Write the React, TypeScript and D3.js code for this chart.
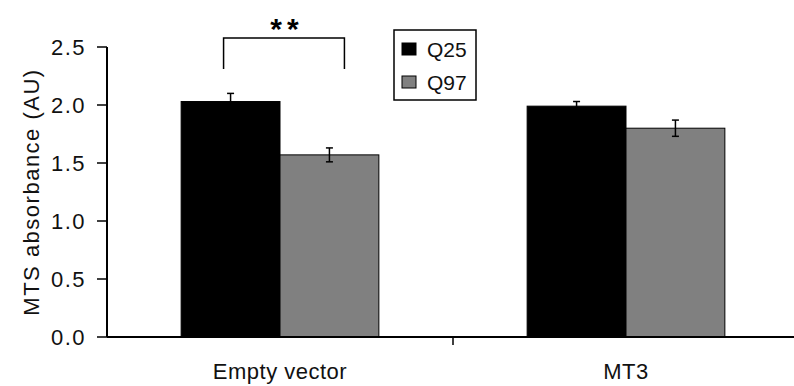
import React from "react";
import { scaleBand, scaleLinear } from "d3";

const categories = ["Empty vector", "MT3"];
const series = ["Q25", "Q97"];
const q25Values = [2.03, 1.99];
const q25Errors = [0.07, 0.04];
const q97Values = [1.57, 1.8];
const q97Errors = [0.06, 0.07];
const yTicks = [0, 0.5, 1.0, 1.5, 2.0, 2.5];
const colors = ["#000000", "#808080"];

const W = 794;
const H = 386;
const left = 107;
const right = 799;
const top = 47;
const bottom = 337;
const font = "'Liberation Sans', Arial, sans-serif";

const App = () => {
  const x0 = scaleBand().domain(categories).range([left, right]);
  const x1 = scaleBand()
    .domain(series)
    .range([0, x0.bandwidth()])
    .paddingOuter(0.75);
  const y = scaleLinear().domain([0, 2.5]).range([bottom, top]);

  const values = [q25Values, q97Values];
  const errors = [q25Errors, q97Errors];

  // significance bracket over the first group
  const g0 = x0(categories[0]);
  const bx1 = g0 + x1("Q25") + x1.bandwidth() / 2 - 7;
  const bx2 = g0 + x1("Q97") + x1.bandwidth() / 2 + 15;

  return (
    <svg
      width={W}
      height={H}
      style={{ position: "absolute", left: 0, top: 0, background: "#fff" }}
      fontFamily={font}
    >
      {/* bars */}
      {categories.map((c, i) =>
        series.map((s, j) => {
          const x = x0(c) + x1(s);
          const v = values[j][i];
          return (
            <rect
              key={c + s}
              x={x}
              y={y(v)}
              width={x1.bandwidth()}
              height={y(0) - y(v)}
              fill={colors[j]}
              stroke="#000"
              strokeWidth={1}
            />
          );
        })
      )}
      {/* error bars */}
      {categories.map((c, i) =>
        series.map((s, j) => {
          const cx = x0(c) + x1(s) + x1.bandwidth() / 2;
          const v = values[j][i];
          const e = errors[j][i];
          return (
            <g key={"e" + c + s} stroke="#000" strokeWidth={1.5}>
              <line x1={cx} x2={cx} y1={y(v - e)} y2={y(v + e)} />
              <line x1={cx - 3.5} x2={cx + 3.5} y1={y(v + e)} y2={y(v + e)} />
              <line x1={cx - 3.5} x2={cx + 3.5} y1={y(v - e)} y2={y(v - e)} />
            </g>
          );
        })
      )}
      {/* y axis */}
      <line x1={left} x2={left} y1={top} y2={bottom} stroke="#000" strokeWidth={2} />
      {yTicks.map((t) => (
        <g key={t}>
          <line x1={left - 10} x2={left} y1={y(t)} y2={y(t)} stroke="#000" strokeWidth={1.5} />
          <text
            x={86}
            y={y(t)}
            dy="0.35em"
            textAnchor="end"
            fontSize={22}
            letterSpacing={1.5}
            fill="#111"
          >
            {t.toFixed(1)}
          </text>
        </g>
      ))}
      <text
        transform={`translate(39,${(top + bottom) / 2}) rotate(-90)`}
        textAnchor="middle"
        fontSize={22}
        letterSpacing={1.5}
        fill="#111"
      >
        MTS absorbance (AU)
      </text>
      {/* x axis */}
      <line x1={left} x2={W} y1={bottom} y2={bottom} stroke="#000" strokeWidth={2} />
      <line
        x1={x0(categories[1])}
        x2={x0(categories[1])}
        y1={bottom}
        y2={bottom + 8}
        stroke="#000"
        strokeWidth={1.5}
      />
      {categories.map((c) => (
        <text
          key={c}
          x={x0(c) + x0.bandwidth() / 2}
          y={379}
          textAnchor="middle"
          fontSize={22}
          letterSpacing={0.5}
          fill="#111"
        >
          {c}
        </text>
      ))}
      {/* significance */}
      <path
        d={`M${bx1},69V38H${bx2}V69`}
        fill="none"
        stroke="#000"
        strokeWidth={1.5}
      />
      <text
        x={(bx1 + bx2) / 2 + 3}
        y={39}
        textAnchor="middle"
        fontSize={30}
        fontWeight="bold"
        letterSpacing={5}
        fill="#000"
      >
        **
      </text>
      {/* legend */}
      <rect x={394} y={30} width={82} height={70} fill="#fff" stroke="#000" strokeWidth={1.5} />
      {series.map((s, j) => (
        <g key={s} transform={`translate(402,${43 + j * 33})`}>
          <rect width={14} height={12} fill={colors[j]} stroke="#000" strokeWidth={1} />
          <text x={25} y={14} fontSize={21} fill="#111">
            {s}
          </text>
        </g>
      ))}
    </svg>
  );
};

export default App;
